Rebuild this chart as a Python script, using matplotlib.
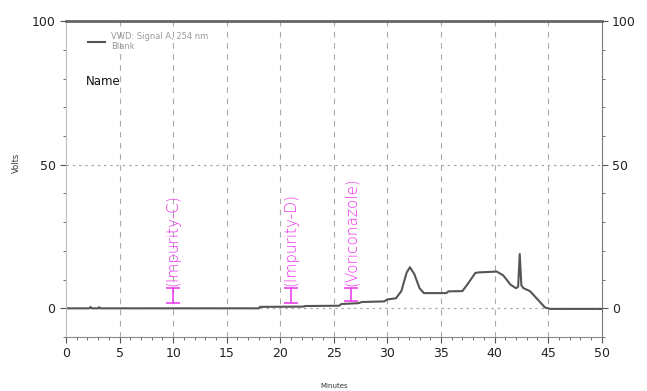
import numpy as np
import matplotlib.pyplot as plt
from matplotlib.ticker import MultipleLocator

# chromatogram trace (minutes, volts)
minutes = [0, 2.2, 2.3, 2.4, 3.0, 3.1, 3.2, 18.0, 18.1, 22.2, 22.3, 25.5,
           25.7, 27.3, 27.6, 29.7, 30.0, 30.8, 31.3, 31.8, 32.1, 32.5, 33.0,
           33.4, 35.5, 35.7, 37.0, 37.5, 38.2, 38.5, 40.2, 40.8, 41.5, 42.0,
           42.2, 42.35, 42.5, 42.7, 43.3, 43.6, 44.7, 45.2, 50]
volts = [0, 0, 0.5, 0, 0, 0.4, 0, 0, 0.5, 0.6, 0.8, 0.9,
         1.5, 1.8, 2.2, 2.4, 3.1, 3.5, 6.0, 12.5, 14.3, 12.0, 7.0,
         5.3, 5.3, 5.9, 6.0, 8.5, 12.3, 12.5, 12.8, 11.5, 8.2, 7.0,
         7.5, 18.9, 8.0, 7.0, 6.0, 4.8, 0.3, -0.2, -0.2]

# peak window labels
peak_names = ["(Impurity-C)", "(Impurity-D)", "(Voriconazole)"]
peak_pos = [10.0, 21.0, 26.6]
peak_lo = [1.8, 2.0, 2.6]
peak_hi = [7.0, 7.0, 7.2]

grey = "#555555"

fig = plt.figure(figsize=(6.47, 3.91), dpi=100)
ax = fig.add_axes([0.102, 0.138, 0.828, 0.808])

ax.plot(minutes, volts, color="#555555", linewidth=1.5,
        label="VWD: Signal A, 254 nm\nBlank")

magenta = "#ee33ee"
for name, x, lo, hi in zip(peak_names, peak_pos, peak_lo, peak_hi):
    mid = (lo + hi) / 2
    ax.errorbar([x], [mid], yerr=[[mid - lo], [hi - mid]], fmt="none",
                ecolor=magenta, elinewidth=1.1, capsize=5, capthick=1.1)
    ax.text(x, hi + 0.6, name, rotation=90, color=magenta, fontsize=11,
            fontweight="light", ha="center", va="bottom")

ax.set_xlim(0, 50)
ax.set_ylim(-10, 100)
ax.xaxis.set_major_locator(MultipleLocator(5))
ax.xaxis.set_minor_locator(MultipleLocator(1))
ax.yaxis.set_major_locator(MultipleLocator(50))
ax.yaxis.set_minor_locator(MultipleLocator(10))
ax.tick_params(which="both", direction="out", colors=grey, labelsize=9,
               right=True, labelright=True, labelcolor="#222222")
ax.tick_params(which="major", length=4)
ax.tick_params(which="minor", length=2)

for x in range(5, 50, 5):
    ax.axvline(x, color="#aaaaaa", linestyle=(0, (5, 5)), linewidth=0.8, zorder=0)
for y in [0, 50]:
    ax.axhline(y, color="#aaaaaa", linestyle=(0, (2, 3)), linewidth=0.9, zorder=0)

ax.spines["top"].set_color("#666666")
ax.spines["top"].set_linewidth(2)
ax.spines["left"].set_color("#bbbbbb")
ax.spines["right"].set_color("#777777")
ax.spines["bottom"].set_color("#888888")

ax.set_ylabel("Volts", fontsize=6, color="#333333")
ax.yaxis.set_label_coords(-0.085, 0.55)
ax.set_xlabel("Minutes", fontsize=5, color="#333333", labelpad=16)

leg = ax.legend(loc="upper left", frameon=False, fontsize=6, handlelength=2,
                borderaxespad=0.3, bbox_to_anchor=(0.03, 0.985))
for t in leg.get_texts():
    t.set_color("#999999")
ax.text(0.037, 0.81, "Name", transform=ax.transAxes, fontsize=8.5,
        color="#111111", va="center")

fig.savefig("out.png", dpi=100)
